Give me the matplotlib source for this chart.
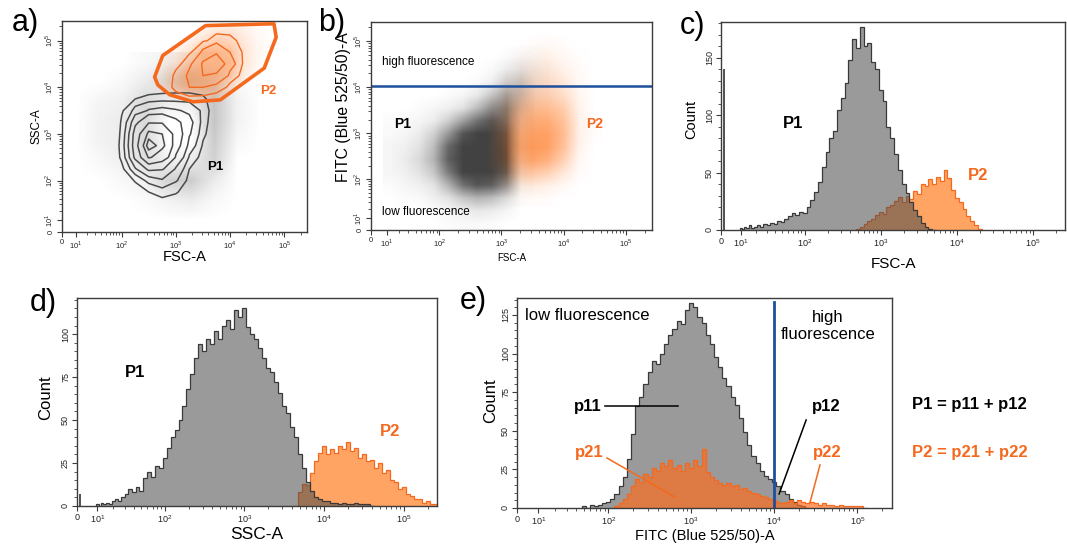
import numpy as np
import matplotlib.pyplot as plt
from matplotlib.patches import Polygon

plt.rcParams['font.family'] = ['Liberation Sans', 'DejaVu Sans']
plt.rcParams['mathtext.fontset'] = 'custom'
plt.rcParams['mathtext.rm'] = 'Liberation Sans'
plt.rcParams['mathtext.bf'] = 'Liberation Sans:bold'

ORANGE = '#f4691e'
LIGHT_OR = '#ffa462'
BLUE = '#1d4f9c'
FRAME = '#3c3c3c'
TOP = 262143
W = 16.0  # linear width of the biexponential axis

# ---------------- data ----------------
# histograms: counts per 0.05-decade bin, first bin centre given as log10
c_p1_start = 1.0
c_p1 = [2, 1, 3, 2, 4, 2, 3, 4, 3, 5, 4, 6, 5, 8, 7, 10, 12, 15, 13, 16, 15, 20, 26, 33,
        42, 55, 68, 80, 86, 104, 115, 128, 148, 166, 158, 177, 160, 163, 146, 140, 122,
        112, 90, 80, 66, 52, 40, 32, 24, 17, 12, 6, 3, 1, 0]
c_p2_start = 2.7
c_p2 = [1, 3, 5, 8, 10, 13, 16, 14, 20, 22, 25, 29, 24, 30, 27, 34, 31, 40, 38, 44, 40,
        46, 43, 52, 45, 35, 28, 24, 18, 12, 8, 4, 1]
c_zero = 140

d_p1_start = 1.0
d_p1 = [1, 0, 2, 1, 2, 1, 3, 4, 3, 5, 7, 10, 8, 11, 9, 16, 20, 17, 23, 22, 28, 34, 40, 44,
        50, 58, 68, 77, 86, 94, 90, 97, 94, 102, 97, 105, 108, 103, 114, 110, 115, 104,
        100, 97, 92, 86, 80, 78, 72, 66, 58, 54, 46, 40, 30, 22, 14, 9, 5, 4, 3, 3, 2, 2,
        1, 2, 1, 1, 2, 1, 1, 1, 0]
d_p2_start = 3.7
d_p2 = [8, 13, 12, 19, 26, 31, 35, 30, 33, 31, 35, 33, 37, 32, 34, 28, 30, 26, 27, 22, 25,
        19, 21, 15, 14, 10, 11, 7, 6, 4, 4, 2, 3, 1, 1]
d_zero = 7

e_p1_start = 1.7
e_p1 = [1, 0, 2, 1, 2, 3, 4, 6, 9, 14, 20, 32, 48, 66, 72, 80, 88, 95, 93, 100, 106, 112,
        116, 121, 119, 128, 133, 130, 124, 120, 112, 106, 98, 91, 84, 79, 72, 67, 58, 49,
        41, 34, 29, 24, 21, 19, 17, 14, 11, 9, 6, 4, 2, 1, 0]
e_p2_start = 2.1
e_p2 = [1, 3, 6, 9, 14, 19, 17, 22, 20, 26, 24, 29, 27, 31, 26, 28, 24, 29, 26, 31, 27, 38,
        23, 20, 18, 16, 15, 16, 14, 15, 12, 13, 11, 10, 9, 8, 7, 6, 5, 4, 3, 4, 5, 3, 5, 4,
        3, 4, 3, 2, 3, 2, 2, 1, 2, 1, 1, 1, 1, 1, 0]

# panel a: P1 contour density (rows = SSC decades, cols = FSC decades)
a_p1_x = [1.75, 2.0, 2.25, 2.5, 2.75, 3.0, 3.25, 3.5, 3.75]
a_p1_y = [4.0, 3.75, 3.5, 3.25, 3.0, 2.75, 2.5, 2.25, 2.0, 1.75, 1.5, 1.25]
a_p1_z = [[0, 0, 0.1, 0.3, 0.4, 0.5, 0.5, 0.4, 0.1],
          [0, 0.4, 1.0, 1.3, 1.4, 1.4, 1.4, 1.2, 0.2],
          [0.1, 0.9, 2.0, 2.6, 2.8, 2.6, 2.3, 1.5, 0.2],
          [0.1, 1.1, 3.2, 4.8, 4.8, 3.8, 2.8, 1.4, 0.1],
          [0.1, 1.2, 4.0, 7.5, 7.0, 4.2, 2.6, 1.2, 0.1],
          [0.1, 1.3, 4.2, 9.5, 7.5, 4.0, 2.2, 0.9, 0],
          [0.1, 1.2, 3.8, 7.2, 6.0, 3.4, 1.6, 0.6, 0],
          [0, 0.8, 2.4, 3.8, 3.6, 2.4, 1.0, 0.3, 0],
          [0, 0.3, 1.1, 2.0, 2.4, 1.8, 0.7, 0.1, 0],
          [0, 0.1, 0.5, 1.0, 1.4, 1.1, 0.4, 0, 0],
          [0, 0, 0.1, 0.4, 0.7, 0.6, 0.2, 0, 0],
          [0, 0, 0, 0, 0.1, 0.1, 0, 0, 0]]
a_p1_levels = [1.0, 1.7, 2.5, 3.5, 5.0, 7.0, 8.5]

# panel a: outlier dots outside the P1 contours
a_out_x = [0.5, 1.0, 1.5, 2.0, 2.5, 3.0, 3.5, 4.0, 4.5]
a_out_y = [4.5, 4.0, 3.5, 3.0, 2.5, 2.0, 1.5, 1.0, 0.5]
a_out_z = [[0, 0, 0, 0.05, 0.1, 0.1, 0.05, 0, 0],
           [0, 0, 0.05, 0.15, 0.3, 0.35, 0.25, 0.05, 0],
           [0, 0.08, 0.12, 0.3, 0.15, 0.15, 0.45, 0.1, 0],
           [0, 0.1, 0.15, 0.3, 0, 0, 0.45, 0.1, 0],
           [0, 0.1, 0.15, 0.3, 0, 0, 0.4, 0.05, 0],
           [0, 0.05, 0.12, 0.25, 0.1, 0.15, 0.35, 0, 0],
           [0, 0, 0.05, 0.12, 0.35, 0.4, 0.15, 0, 0],
           [0, 0, 0, 0.03, 0.1, 0.15, 0.05, 0, 0],
           [0, 0, 0, 0, 0, 0, 0, 0, 0]]

# panel a: P2 density
a_p2_x = [2.5, 2.75, 3.0, 3.25, 3.5, 3.75, 4.0, 4.25, 4.5, 4.75]
a_p2_y = [5.5, 5.25, 5.0, 4.75, 4.5, 4.25, 4.0, 3.75, 3.5]
a_p2_z = [[0, 0, 0, 0, 0, 0.2, 0.3, 0.2, 0.1, 0],
          [0, 0, 0, 0.2, 0.5, 1.0, 1.2, 0.8, 0.3, 0],
          [0, 0, 0.2, 0.6, 1.5, 2.6, 2.2, 1.2, 0.4, 0.1],
          [0, 0.2, 0.6, 1.5, 4.0, 6.0, 3.5, 1.5, 0.5, 0.1],
          [0, 0.3, 1.2, 3.0, 7.0, 9.0, 4.5, 1.5, 0.4, 0],
          [0.1, 0.6, 2.2, 4.0, 6.5, 6.0, 3.0, 1.0, 0.2, 0],
          [0.1, 0.7, 2.4, 3.5, 3.5, 2.8, 1.3, 0.4, 0, 0],
          [0, 0.3, 1.0, 1.4, 1.3, 1.0, 0.4, 0.1, 0, 0],
          [0, 0, 0.2, 0.3, 0.3, 0.2, 0, 0, 0, 0]]
a_p2_levels = [1.8, 3.5, 6.5]

# P2 gate (log10 FSC, log10 SSC)
gate_x = [2.61, 2.76, 3.55, 4.81, 4.85, 4.63, 3.82, 3.32, 2.89, 2.67]
gate_y = [4.22, 4.68, 5.32, 5.36, 5.07, 4.41, 3.73, 3.69, 3.84, 4.05]

# panel b: dot density, P1 (grey) and P2 (orange)
b_p1_x = [1.0, 1.25, 1.5, 1.75, 2.0, 2.25, 2.5, 2.75, 3.0, 3.25, 3.5, 3.75, 4.0]
b_p1_y = [5.0, 4.75, 4.5, 4.25, 4.0, 3.75, 3.5, 3.25, 3.0, 2.75, 2.5, 2.25, 2.0, 1.75, 1.5]
b_p1_z = [[0, 0, 0, 0, 0, 0, 0, 0, 0, 0, 0, 0, 0],
          [0, 0, 0, 0, 0, 0, 0, 0, 0.02, 0.05, 0.03, 0, 0],
          [0, 0, 0, 0, 0, 0, 0, 0.03, 0.1, 0.15, 0.08, 0.02, 0],
          [0, 0, 0, 0, 0, 0, 0.03, 0.08, 0.25, 0.3, 0.1, 0.02, 0],
          [0, 0, 0, 0, 0.02, 0.05, 0.12, 0.3, 0.5, 0.35, 0.08, 0.02, 0],
          [0, 0, 0.02, 0.05, 0.08, 0.15, 0.35, 0.6, 0.7, 0.3, 0.05, 0, 0],
          [0.02, 0.03, 0.05, 0.1, 0.25, 0.5, 0.75, 0.9, 0.8, 0.2, 0.03, 0, 0],
          [0.03, 0.05, 0.1, 0.25, 0.55, 0.9, 1, 1, 0.95, 0.15, 0.02, 0, 0],
          [0.05, 0.08, 0.15, 0.35, 0.8, 1, 1, 1, 1, 0.15, 0.02, 0, 0],
          [0.05, 0.1, 0.2, 0.4, 0.85, 1, 1, 1, 1, 0.12, 0.02, 0, 0],
          [0.05, 0.08, 0.15, 0.3, 0.7, 1, 1, 1, 0.9, 0.1, 0, 0, 0],
          [0.02, 0.05, 0.08, 0.15, 0.4, 0.75, 0.9, 0.85, 0.6, 0.05, 0, 0, 0],
          [0, 0.02, 0.03, 0.08, 0.15, 0.3, 0.4, 0.35, 0.2, 0.02, 0, 0, 0],
          [0, 0, 0, 0.02, 0.05, 0.08, 0.12, 0.1, 0.05, 0, 0, 0, 0],
          [0, 0, 0, 0, 0.02, 0.03, 0.03, 0.02, 0, 0, 0, 0, 0]]
b_p2_x = [2.75, 3.0, 3.25, 3.5, 3.75, 4.0, 4.25, 4.5]
b_p2_y = [5.25, 5.0, 4.75, 4.5, 4.25, 4.0, 3.75, 3.5, 3.25, 3.0, 2.75, 2.5, 2.25, 2.0]
b_p2_z = [[0, 0, 0, 0, 0, 0, 0, 0],
          [0, 0, 0, 0.03, 0.05, 0.02, 0, 0],
          [0, 0, 0.02, 0.08, 0.12, 0.06, 0.02, 0],
          [0, 0, 0.04, 0.15, 0.2, 0.12, 0.04, 0],
          [0, 0.02, 0.08, 0.25, 0.3, 0.2, 0.05, 0],
          [0, 0.05, 0.2, 0.4, 0.42, 0.3, 0.08, 0],
          [0, 0.1, 0.4, 0.6, 0.6, 0.45, 0.1, 0],
          [0, 0.15, 0.55, 0.75, 0.75, 0.55, 0.12, 0.02],
          [0, 0.2, 0.65, 0.85, 0.85, 0.6, 0.12, 0.02],
          [0, 0.2, 0.7, 0.9, 0.85, 0.55, 0.1, 0],
          [0, 0.18, 0.6, 0.8, 0.7, 0.4, 0.06, 0],
          [0, 0.1, 0.4, 0.5, 0.4, 0.2, 0.03, 0],
          [0, 0.03, 0.12, 0.18, 0.12, 0.05, 0, 0],
          [0, 0, 0.02, 0.03, 0.02, 0, 0, 0]]
b_threshold = 1.07e4   # FITC gate (high / low fluorescence)
e_threshold = 1.0e4

dec_ticks = [0, 1e1, 1e2, 1e3, 1e4, 1e5]
dec_labels = ['0'] + [r'$10^{%d}$' % k for k in range(1, 6)]
minor_ticks = [m * 10 ** k for k in range(1, 6) for m in range(2, 10) if m * 10 ** k < TOP]


# ---------------- helpers ----------------
def fwd(v):
    return np.arcsinh(np.asarray(v, dtype=float) / W)


def inv(p):
    return W * np.sinh(p)


def bi_axis(ax, axis, lo=0):
    if axis == 'x':
        ax.set_xscale('function', functions=(fwd, inv))
        ax.set_xlim(lo, TOP)
        ax.set_xticks(dec_ticks, dec_labels)
        ax.set_xticks(minor_ticks, minor=True)
    else:
        ax.set_yscale('function', functions=(fwd, inv))
        ax.set_ylim(lo, TOP)
        ax.set_yticks(dec_ticks, dec_labels)
        ax.set_yticks(minor_ticks, minor=True)


def style(ax, fs):
    for s in ax.spines.values():
        s.set_color(FRAME)
        s.set_linewidth(1.0)
    ax.tick_params(which='both', direction='out', color=FRAME, labelsize=fs, pad=1.5,
                   labelcolor='#222222')
    ax.tick_params(which='major', length=3.5, width=0.8)
    ax.tick_params(which='minor', length=2, width=0.6)
    ax.tick_params(axis='y', labelrotation=90)
    for lab in ax.get_yticklabels():
        lab.set_va('center')


def edges(start, n):
    lg = start + 0.05 * np.arange(n + 1) - 0.025
    return 10 ** lg


def cloud(bg, xl, yl, z, rgb, vmax, amax):
    # density image drawn in the (linear) transformed space of an underlay axes
    z = np.clip(np.asarray(z, dtype=float) / vmax, 0, 1)
    rgba = np.zeros(z.shape + (4,))
    rgba[..., :3] = rgb
    rgba[..., 3] = z * amax
    hx = abs(xl[1] - xl[0]) / 2
    hy = abs(yl[1] - yl[0]) / 2
    ext = [float(fwd(10 ** (min(xl) - hx))), float(fwd(10 ** (max(xl) + hx))),
           float(fwd(10 ** (min(yl) - hy))), float(fwd(10 ** (max(yl) + hy)))]
    return bg.imshow(rgba, extent=ext, origin='upper', interpolation='bilinear', aspect='auto')


def underlay(rect):
    bg = fig.add_axes(rect)
    bg.set_axis_off()
    return bg


def finish_underlay(bg, ylo=0):
    bg.set_xlim(float(fwd(0)), float(fwd(TOP)))
    bg.set_ylim(float(fwd(ylo)), float(fwd(TOP)))


def hist_pair(ax, p1, p1s, p2, p2s, p2_on_top):
    e1, e2 = edges(p1s, len(p1)), edges(p2s, len(p2))
    if p2_on_top:
        ax.stairs(p1, e1, fill=True, color='#9a9a9a', lw=0)
        ax.stairs(p1, e1, color='#3a3a3a', lw=0.9)
        ax.stairs(p2, e2, fill=True, color=(1.0, 0.42, 0.1), alpha=0.68, lw=0)
        ax.stairs(p2, e2, color=ORANGE, lw=0.9)
    else:
        ax.stairs(p2, e2, fill=True, color=LIGHT_OR, lw=0)
        ax.stairs(p2, e2, color=ORANGE, lw=0.9)
        ax.stairs(p1, e1, fill=True, color=(0.3, 0.3, 0.3), alpha=0.57, lw=0)
        ax.stairs(p1, e1, color='#3a3a3a', lw=0.9)


def px_rect(l, r, t, b):
    return [l / 1067, 1 - b / 545, (r - l) / 1067, (b - t) / 545]


fig = plt.figure(figsize=(10.67, 5.45), dpi=100)

# ---------------- a) ----------------
rect = px_rect(62, 307, 21, 232)
bg = underlay(rect)
ax = fig.add_axes(rect)
ax.set_facecolor('none')
cloud(bg, a_out_x, a_out_y, a_out_z, (0.25, 0.25, 0.25), 1.2, 0.8)
im = cloud(bg, a_p2_x, a_p2_y, a_p2_z, (1.0, 0.45, 0.1), 4.0, 0.5)
finish_underlay(bg)
gate = Polygon(np.column_stack([10 ** np.array(gate_x), 10 ** np.array(gate_y)]), closed=True,
               fill=False, ec=ORANGE, lw=2.6, joinstyle='round', zorder=5)
ax.add_patch(gate)
im.set_clip_path(gate)
X, Y = np.meshgrid(10 ** np.array(a_p1_x), 10 ** np.array(a_p1_y))
ax.contour(X, Y, np.array(a_p1_z), levels=a_p1_levels, colors='#4a4a4a', linewidths=1.1)
X, Y = np.meshgrid(10 ** np.array(a_p2_x), 10 ** np.array(a_p2_y))
ax.contour(X, Y, np.array(a_p2_z), levels=a_p2_levels, colors=ORANGE, linewidths=1.0)
bi_axis(ax, 'x')
bi_axis(ax, 'y')
ax.text(0.624, 0.308, 'P1', transform=ax.transAxes, fontsize=9.5, fontweight='bold',
        ha='center', va='center')
ax.text(0.841, 0.668, 'P2', transform=ax.transAxes, fontsize=9.5, fontweight='bold',
        color=ORANGE, ha='center', va='center')
style(ax, 5.5)
ax.set_xlabel('FSC-A', fontsize=10.5)
ax.set_ylabel('SSC-A', fontsize=8.5)
ax.xaxis.set_label_coords(0.5, -0.085)
ax.yaxis.set_label_coords(-0.08, 0.5)

# ---------------- b) ----------------
rect = px_rect(371, 652, 22, 230)
bg = underlay(rect)
ax = fig.add_axes(rect)
ax.set_facecolor('none')
cloud(bg, b_p1_x, b_p1_y, b_p1_z, (0.26, 0.26, 0.26), 1.0, 1.0)
cloud(bg, b_p2_x, b_p2_y, b_p2_z, (1.0, 0.42, 0.05), 1.0, 0.75)
finish_underlay(bg, ylo=24)
bi_axis(ax, 'x')
bi_axis(ax, 'y', lo=24)
ax.axhline(b_threshold, color=BLUE, lw=1.8)
ax.text(0.039, 0.808, 'high fluorescence', transform=ax.transAxes, fontsize=8.5, va='center')
ax.text(0.039, 0.087, 'low fluorescence', transform=ax.transAxes, fontsize=8.5, va='center')
ax.text(0.114, 0.51, 'P1', transform=ax.transAxes, fontsize=10, fontweight='bold',
        ha='center', va='center')
ax.text(0.794, 0.51, 'P2', transform=ax.transAxes, fontsize=10, fontweight='bold',
        color=ORANGE, ha='center', va='center')
style(ax, 5.5)
ax.set_xlabel('FSC-A', fontsize=7)
ax.set_ylabel('FITC (Blue 525/50)-A', fontsize=11.3)
ax.xaxis.set_label_coords(0.5, -0.11)
ax.yaxis.set_label_coords(-0.072, 0.59)

# ---------------- c) ----------------
ax = fig.add_axes(px_rect(721, 1065, 22, 230))
bi_axis(ax, 'x')
ax.set_ylim(0, 181)
ax.set_yticks([0, 50, 100, 150])
ax.set_yticks(np.arange(10, 181, 10), minor=True)
ax.stairs([c_zero], [0.8, 2.0], fill=True, color='#555555')
hist_pair(ax, c_p1, c_p1_start, c_p2, c_p2_start, p2_on_top=False)
ax.text(0.209, 0.514, 'P1', transform=ax.transAxes, fontsize=12, fontweight='bold',
        ha='center', va='center')
ax.text(0.747, 0.264, 'P2', transform=ax.transAxes, fontsize=12, fontweight='bold',
        color=ORANGE, ha='center', va='center')
style(ax, 6.5)
ax.set_xlabel('FSC-A', fontsize=11)
ax.set_ylabel('Count', fontsize=10.5)
ax.xaxis.set_label_coords(0.5, -0.13)
ax.yaxis.set_label_coords(-0.067, 0.53)

# ---------------- d) ----------------
ax = fig.add_axes(px_rect(77, 437, 298, 506))
bi_axis(ax, 'x')
ax.set_ylim(0, 121)
ax.set_yticks([0, 25, 50, 75, 100])
ax.set_yticks(np.arange(5, 121, 5), minor=True)
ax.stairs([d_zero], [0.8, 2.0], fill=True, color='#555555')
hist_pair(ax, d_p1, d_p1_start, d_p2, d_p2_start, p2_on_top=False)
ax.text(0.161, 0.644, 'P1', transform=ax.transAxes, fontsize=12, fontweight='bold',
        ha='center', va='center')
ax.text(0.869, 0.356, 'P2', transform=ax.transAxes, fontsize=12, fontweight='bold',
        color=ORANGE, ha='center', va='center')
style(ax, 6.5)
ax.set_xlabel('SSC-A', fontsize=12.5)
ax.set_ylabel('Count', fontsize=12)
ax.xaxis.set_label_coords(0.5, -0.1)
ax.yaxis.set_label_coords(-0.067, 0.52)

# ---------------- e) ----------------
ax = fig.add_axes(px_rect(517, 892, 298, 508))
bi_axis(ax, 'x')
ax.set_ylim(0, 136)
ax.set_yticks([0, 25, 50, 75, 100, 125])
ax.set_yticks(np.arange(5, 136, 5), minor=True)
hist_pair(ax, e_p1, e_p1_start, e_p2, e_p2_start, p2_on_top=True)
ax.axvline(e_threshold, ymin=0, ymax=0.98, color=BLUE, lw=2.0)
ax.text(0.021, 0.919, 'low fluorescence', transform=ax.transAxes, fontsize=12, va='center')
ax.text(0.829, 0.867, 'high\nfluorescence', transform=ax.transAxes, fontsize=12,
        ha='center', va='center', linespacing=1.2)
for lbl, x, y, col in [('p11', 0.189, 0.481, 'black'), ('p12', 0.824, 0.481, 'black'),
                       ('p21', 0.192, 0.262, ORANGE), ('p22', 0.827, 0.262, ORANGE)]:
    ax.text(x, y, lbl, transform=ax.transAxes, fontsize=12, fontweight='bold', color=col,
            ha='center', va='center')
for (x0, y0, x1, y1), col in [((0.235, 0.486, 0.429, 0.486), 'black'),
                              ((0.771, 0.419, 0.699, 0.067), 'black'),
                              ((0.240, 0.238, 0.421, 0.052), ORANGE),
                              ((0.808, 0.205, 0.781, 0.024), ORANGE)]:
    ax.plot([x0, x1], [y0, y1], transform=ax.transAxes, color=col, lw=1.1)
style(ax, 6.5)
ax.set_xlabel('FITC (Blue 525/50)-A', fontsize=10.5)
ax.set_ylabel('Count', fontsize=12)
ax.xaxis.set_label_coords(0.5, -0.1)
ax.yaxis.set_label_coords(-0.051, 0.51)

fig.text(912 / 1067, 1 - 405 / 545, 'P1 = p11 + p12', fontsize=12, fontweight='bold',
         va='center')
fig.text(912 / 1067, 1 - 452 / 545, 'P2 = p21 + p22', fontsize=12, fontweight='bold',
         color=ORANGE, va='center')

for lbl, x, y in [('a)', 12, 23), ('b)', 318, 23), ('c)', 680, 26), ('d)', 30, 303),
                  ('e)', 460, 301)]:
    fig.text(x / 1067, 1 - y / 545, lbl, fontsize=22, va='center')

fig.savefig('out.png', dpi=100)
